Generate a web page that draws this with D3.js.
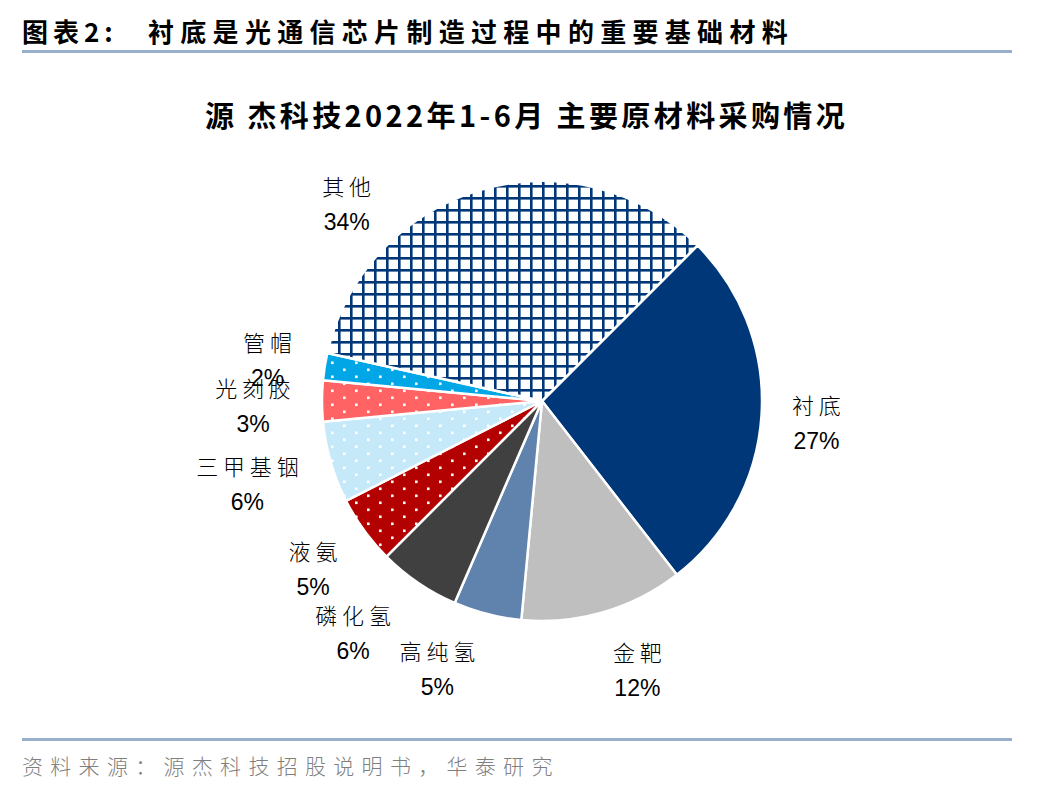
<!DOCTYPE html>
<html>
<head>
<meta charset="utf-8">
<script src="https://cdn.jsdelivr.net/npm/d3@7/dist/d3.min.js"></script>
<style>
  body { margin: 0; background: #fff; }
  svg { display: block; }
</style>
</head>
<body>
<div id="chart"></div>
<script>
// chart data
const categories = ['衬底', '金靶', '高纯氢', '磷化氢', '液氨', '三甲基铟', '光刻胶', '管帽', '其他'];
const labelNames = ['衬 底', '金 靶', '高 纯 氢', '磷 化 氢', '液 氨', '三 甲 基 铟', '光 刻 胶', '管 帽', '其 他'];
const shares = [27, 12, 5, 6, 5, 6, 3, 2, 34];

const headerText = '图表2:';
const headerTitle = '衬底是光通信芯片制造过程中的重要基础材料';
const chartTitle = '源 杰科技2022年1-6月 主要原材料采购情况';
const sourceText = '资料来源：源杰科技招股说明书，华泰研究';

// slice styling (fill colour + pattern type)
const sliceStyle = {
    '衬底': {color: '#003778', pattern: null},
    '金靶': {color: '#bfbfbf', pattern: null},
    '高纯氢': {color: '#5f83ad', pattern: null},
    '磷化氢': {color: '#404040', pattern: null},
    '液氨': {color: '#b30000', pattern: 'dots'},
    '三甲基铟': {color: '#c6e9f9', pattern: 'dots'},
    '光刻胶': {color: '#ff6363', pattern: 'dots'},
    '管帽': {color: '#00a6e6', pattern: 'dots'},
    '其他': {color: '#003778', pattern: 'grid'}
};

// label nudges relative to the outer label arc, as Excel placed them
const labelNudge = {
    '衬底': [-13, 4], '金靶': [15, -8], '高纯氢': [-33, -11], '磷化氢': [-27, -6],
    '液氨': [4, -1], '三甲基铟': [-18, 3], '光刻胶': [-1, 5], '管帽': [10, 4], '其他': [-115, 80]
};

const width = 1048, height = 792;
const cx = 542, cy = 401, radius = 220, labelRadius = 288;

const svg = d3.select('#chart').append('svg')
    .attr('width', width)
    .attr('height', height);

// patterns
const defs = svg.append('defs');
categories.forEach((c, i) => {
    const st = sliceStyle[c];
    if (!st.pattern) return;
    if (st.pattern === 'dots') {
        const p = defs.append('pattern')
            .attr('id', 'pat' + i)
            .attr('patternUnits', 'userSpaceOnUse')
            .attr('width', 24)
            .attr('height', 14);
        p.append('rect').attr('width', 24).attr('height', 14).attr('fill', st.color);
        p.append('rect').attr('x', 5).attr('y', 2.5).attr('width', 2.6).attr('height', 2.6).attr('fill', '#fff');
        p.append('rect').attr('x', 17).attr('y', 9.5).attr('width', 2.6).attr('height', 2.6).attr('fill', '#fff');
    } else {
        const p = defs.append('pattern')
            .attr('id', 'pat' + i)
            .attr('patternUnits', 'userSpaceOnUse')
            .attr('width', 12)
            .attr('height', 12);
        p.append('rect').attr('width', 12).attr('height', 12).attr('fill', '#fff');
        p.append('rect').attr('x', 0).attr('y', 0).attr('width', 12).attr('height', 2.6).attr('fill', st.color);
        p.append('rect').attr('x', 0).attr('y', 0).attr('width', 2.6).attr('height', 12).attr('fill', st.color);
    }
});

const fillFor = (c, i) => sliceStyle[c].pattern ? `url(#pat${i})` : sliceStyle[c].color;

// header
svg.append('text')
    .attr('x', 22).attr('y', 42)
    .style('font-family', '"Noto Sans CJK SC"')
    .style('font-weight', 'bold')
    .style('font-size', '26px')
    .style('letter-spacing', '5px')
    .attr('fill', '#000')
    .text(headerText);
svg.append('text')
    .attr('x', 148).attr('y', 42)
    .style('font-family', '"Noto Sans CJK SC"')
    .style('font-weight', 'bold')
    .style('font-size', '26px')
    .style('letter-spacing', '6.3px')
    .attr('fill', '#000')
    .text(headerTitle);

svg.append('line')
    .attr('x1', 22).attr('x2', 1012)
    .attr('y1', 51.5).attr('y2', 51.5)
    .attr('stroke', '#98b0cc')
    .attr('stroke-width', 3);

svg.append('line')
    .attr('x1', 22).attr('x2', 1012)
    .attr('y1', 739.5).attr('y2', 739.5)
    .attr('stroke', '#98b0cc')
    .attr('stroke-width', 3);

svg.append('text')
    .attr('x', 22).attr('y', 774)
    .style('font-family', '"Noto Sans CJK SC"')
    .style('font-weight', '300')
    .style('font-size', '21px')
    .style('letter-spacing', '7.3px')
    .attr('fill', '#7f7f7f')
    .text(sourceText);

// chart title
svg.append('text')
    .attr('x', 205).attr('y', 127)
    .style('font-family', '"Noto Sans CJK SC"')
    .style('font-weight', 'bold')
    .style('font-size', '29px')
    .style('letter-spacing', '3.4px')
    .attr('fill', '#000')
    .text(chartTitle);

// pie
const pie = d3.pie()
    .value(d => d)
    .sort(null)
    .startAngle(Math.PI / 4)
    .endAngle(Math.PI / 4 + 2 * Math.PI);

const arcs = pie(shares);

const arc = d3.arc()
    .innerRadius(0)
    .outerRadius(radius);

const labelArc = d3.arc()
    .innerRadius(labelRadius)
    .outerRadius(labelRadius);

const chart = svg.append('g')
    .attr('transform', `translate(${cx},${cy})`);

chart.selectAll('.slice')
    .data(arcs)
    .enter()
    .append('path')
    .attr('class', 'slice')
    .attr('d', arc)
    .attr('fill', (d, i) => fillFor(categories[i], i))
    .attr('stroke', '#fff')
    .attr('stroke-width', 2.5)
    .attr('stroke-linejoin', 'round');

const labels = chart.selectAll('.label')
    .data(arcs)
    .enter()
    .append('g')
    .attr('class', 'label')
    .attr('transform', (d, i) => {
        const [x, y] = labelArc.centroid(d);
        const n = labelNudge[categories[i]];
        return `translate(${x + n[0]},${y + n[1]})`;
    });

labels.append('text')
    .attr('text-anchor', 'middle')
    .attr('y', -9)
    .style('font-family', '"Noto Sans CJK SC"')
    .style('font-weight', '300')
    .style('font-size', '22px')
    .attr('fill', '#000')
    .text((d, i) => labelNames[i]);

labels.append('text')
    .attr('text-anchor', 'middle')
    .attr('y', 26)
    .style('font-family', '"Liberation Sans", Arial, sans-serif')
    .style('font-size', '23px')
    .attr('fill', '#000')
    .text((d, i) => shares[i] + '%');
</script>
</body>
</html>
